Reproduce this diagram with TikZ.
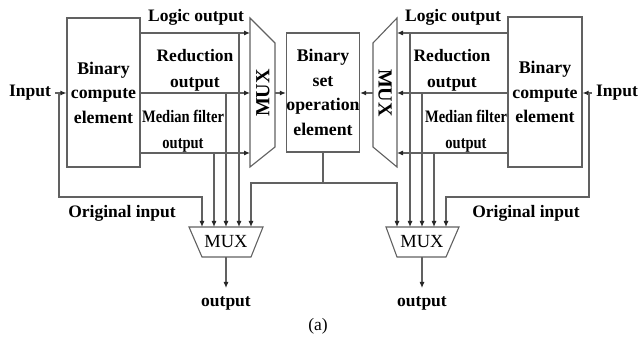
\documentclass[tikz,border=0pt]{standalone}
\usepackage{fontspec}
\setmainfont{Liberation Serif}
\usetikzlibrary{arrows.meta,calc}
\begin{document}
\begin{tikzpicture}[x=1pt,y=-1pt,
  wire/.style={draw=black!62, line width=1.1pt},
  arr/.style={wire,-{Latex[length=6pt,width=5pt,color=black!85]}},
  blk/.style={draw=black!62, line width=1.1pt, rectangle, inner sep=0pt,
    align=center, font=\bfseries\fontsize{17.8}{24.5}\selectfont},
  lbl/.style={inner sep=0pt, align=center, font=\bfseries\fontsize{17.5}{26}\selectfont},
  vmux/.style={inner sep=0pt, font=\bfseries\fontsize{20}{20}\selectfont},
  bmux/.style={inner sep=0pt, font=\fontsize{18.5}{18.5}\selectfont},
  muxshape/.style={draw=black!62, line width=1.1pt}]
\useasboundingbox (0,0) rectangle (638,358);

% signal levels and column positions
\coordinate (yL) at (0,33);
\coordinate (yR) at (0,93);
\coordinate (yM) at (0,153);
\coordinate (yC) at (0,183);
\coordinate (yO) at (0,197);
\coordinate (yT) at (0,227);
\coordinate (xl1) at (202,0);
\coordinate (xl2) at (214,0);
\coordinate (xl3) at (226,0);
\coordinate (xl4) at (239,0);
\coordinate (xl5) at (251,0);
\coordinate (xr1) at (397,0);
\coordinate (xr2) at (410,0);
\coordinate (xr3) at (422,0);
\coordinate (xr4) at (434,0);
\coordinate (xr5) at (446,0);

% processing blocks
\node[blk, minimum width=73pt, minimum height=149pt] (lb) at (103.5,92.5) {Binary\\compute\\element};
\node[blk, minimum width=72pt, minimum height=119pt] (sb) at (323,92.5) {Binary\\set\\operation\\element};
\node[blk, minimum width=74pt, minimum height=150pt] (rb) at (545,92) {Binary\\compute\\element};

% vertical multiplexers
\draw[muxshape] (250,18) -- (275,43) -- (275,147) -- (250,167) -- cycle;
\node[vmux, rotate=90] (lmux) at (263,93) {MUX};
\coordinate (lmW) at (250,93);
\coordinate (lmE) at (275,93);
\draw[muxshape] (397,18) -- (373,43) -- (373,147) -- (397,167) -- cycle;
\node[vmux, rotate=-90] (rmux) at (385,93) {MUX};
\coordinate (rmE) at (397,93);
\coordinate (rmW) at (373,93);

% output multiplexers
\draw[muxshape] (189,227) -- (263,227) -- (251,257) -- (202,257) -- cycle;
\node[bmux] (lbm) at (226,242) {MUX};
\coordinate (lbmS) at (226,257);
\coordinate (lbmO) at (226,288);
\draw[muxshape] (386,227) -- (459,227) -- (446,257) -- (397,257) -- cycle;
\node[bmux] (rbm) at (422,242) {MUX};
\coordinate (rbmS) at (422,257);
\coordinate (rbmO) at (422,288);

% labels
\node[lbl] (linp) at (30,93) {Input};
\node[lbl] (rinp) at (617,93) {Input};
\node[lbl] (llog) at (196,17) {Logic output};
\node[lbl] (rlog) at (453,17) {Logic output};
\node[lbl] (lred) at (195,70) {Reduction\\output};
\node[lbl] (rred) at (452,70) {Reduction\\output};
\node[lbl] (lmed) at (183,131) {\scalebox{0.83}[1]{Median filter}\\\scalebox{0.83}[1]{output}};
\node[lbl] (rmed) at (466,131) {\scalebox{0.83}[1]{Median filter}\\\scalebox{0.83}[1]{output}};
\node[lbl] (lorig) at (122,213) {Original input};
\node[lbl] (rorig) at (526,213) {Original input};
\node[lbl] (lout) at (226,303) {output};
\node[lbl] (rout) at (422,303) {output};
\node[inner sep=0pt, font=\fontsize{17.5}{17.5}\selectfont] (cap) at (318,326) {(a)};

% left side wiring
\draw[arr, shorten <=4pt] (linp.east) -- (lb.west |- linp.east);
\coordinate (lsplit) at (59,93);
\draw[arr] (lsplit) |- (xl1 |- yO) -- (xl1 |- yT);
\draw[arr] (lb.east |- yL) -- (lmW |- yL);
\draw[arr] (lb.east |- yR) -- (lmW |- yR);
\draw[arr] (lb.east |- yM) -- (lmW |- yM);
\draw[arr] (xl4 |- yL) -- (xl4 |- yT);
\draw[arr] (xl3 |- yR) -- (xl3 |- yT);
\draw[arr] (xl2 |- yM) -- (xl2 |- yT);
\draw[arr] (lmE) -- (sb.west |- lmE);

% right side wiring
\draw[arr, shorten <=4pt] (rinp.west) -- (rb.east |- rinp.west);
\coordinate (rsplit) at (589,93);
\draw[arr] (rsplit) |- (xr5 |- yO) -- (xr5 |- yT);
\draw[arr] (rb.west |- yL) -- (rmE |- yL);
\draw[arr] (rb.west |- yR) -- (rmE |- yR);
\draw[arr] (rb.west |- yM) -- (rmE |- yM);
\draw[arr] (xr2 |- yL) -- (xr2 |- yT);
\draw[arr] (xr3 |- yR) -- (xr3 |- yT);
\draw[arr] (xr4 |- yM) -- (xr4 |- yT);
\draw[arr] (rmW) -- (sb.east |- rmW);

% set operation result to both output multiplexers
\coordinate (cj) at (sb.south |- yC);
\draw[wire] (sb.south) -- (cj);
\draw[arr] (cj) -| (xl5 |- yT);
\draw[arr] (cj) -| (xr1 |- yT);

% final outputs
\draw[arr] (lbmS) -- (lbmO);
\draw[arr] (rbmS) -- (rbmO);
\end{tikzpicture}
\end{document}
